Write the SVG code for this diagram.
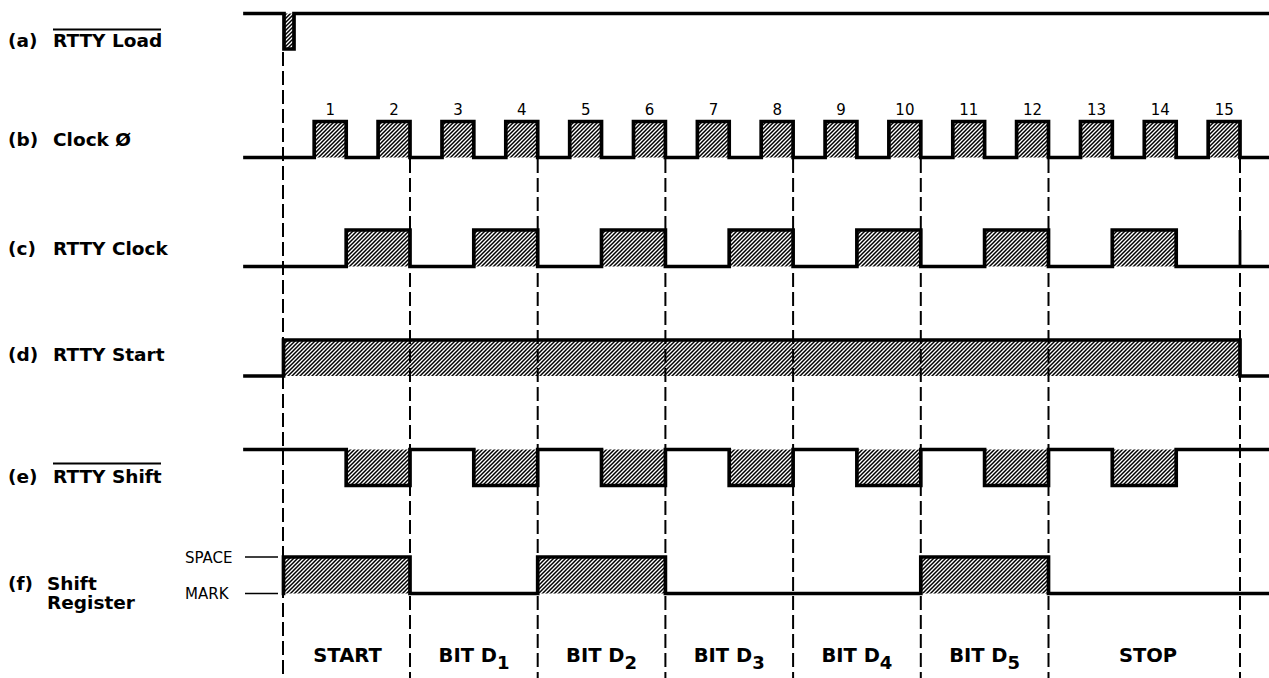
<svg xmlns="http://www.w3.org/2000/svg" width="1269" height="678" viewBox="0 0 1269 678">
<defs>
<pattern id="hatch" patternUnits="userSpaceOnUse" width="4" height="4">
<path d="M-1,1 l2,-2 M0,4 l4,-4 M3,5 l2,-2" stroke="#000" stroke-width="1.5"/>
</pattern>
</defs>
<style>
.wave{fill:none;stroke:#000;stroke-width:3.7;stroke-linejoin:miter;stroke-linecap:square}
.h{fill:url(#hatch);stroke:none}
.dash{fill:none;stroke:#000;stroke-width:2;stroke-dasharray:14 5}
.tick{stroke:#000;stroke-width:1.6}
.lbl{font-family:"DejaVu Sans",Verdana,sans-serif;font-weight:bold;font-size:18.5px;fill:#000}
.num{font-family:"DejaVu Sans",Verdana,sans-serif;font-size:15px;fill:#000;text-anchor:middle}
.lvl{font-family:"DejaVu Sans",Verdana,sans-serif;font-size:15px;fill:#000}
.bit{font-family:"DejaVu Sans",Verdana,sans-serif;font-weight:bold;font-size:19.5px;fill:#000;text-anchor:middle}
.ov{stroke:#000;stroke-width:1.8}
</style>
<rect width="1269" height="678" fill="#fff"/>

<g id="connectors">
<line class="dash" x1="283" y1="52" x2="283" y2="678"/>
<line class="dash" x1="410" y1="159" x2="410" y2="678"/>
<line class="dash" x1="537.7" y1="159" x2="537.7" y2="678"/>
<line class="dash" x1="665.4" y1="159" x2="665.4" y2="678"/>
<line class="dash" x1="793.1" y1="159" x2="793.1" y2="678"/>
<line class="dash" x1="920.8" y1="159" x2="920.8" y2="678"/>
<line class="dash" x1="1048.5" y1="159" x2="1048.5" y2="678"/>
<line class="dash" x1="1240" y1="159" x2="1240" y2="678"/>
</g>

<g id="sig-a">
<text class="lbl" x="8" y="47">(a)</text>
<text class="lbl" x="53" y="47">RTTY Load</text>
<line class="ov" x1="53" y1="29.5" x2="161" y2="29.5"/>
<rect class="h" x="284" y="13.5" width="10" height="35.5"/>
<path class="wave" d="M245,13.5 H284 V49 H294 V13.5 H1269"/>
</g>

<g id="sig-b">
<text class="lbl" x="8" y="146">(b)</text>
<text class="lbl" x="53" y="146">Clock Ø</text>
<g class="h">
<rect x="314.2" y="121.5" width="32" height="36"/>
<rect x="378.1" y="121.5" width="32" height="36"/>
<rect x="442" y="121.5" width="32" height="36"/>
<rect x="505.8" y="121.5" width="32" height="36"/>
<rect x="569.7" y="121.5" width="32" height="36"/>
<rect x="633.5" y="121.5" width="32" height="36"/>
<rect x="697.4" y="121.5" width="32" height="36"/>
<rect x="761.2" y="121.5" width="32" height="36"/>
<rect x="825.1" y="121.5" width="32" height="36"/>
<rect x="888.9" y="121.5" width="32" height="36"/>
<rect x="952.8" y="121.5" width="32" height="36"/>
<rect x="1016.6" y="121.5" width="32" height="36"/>
<rect x="1080.5" y="121.5" width="32" height="36"/>
<rect x="1144.3" y="121.5" width="32" height="36"/>
<rect x="1208.2" y="121.5" width="32" height="36"/>
</g>
<path class="wave" d="M245,157.5 H314.2 V121.5 H346.2 V157.5 H378.1 V121.5 H410 V157.5 H442 V121.5 H473.8 V157.5 H505.8 V121.5 H537.7 V157.5 H569.7 V121.5 H601.5 V157.5 H633.5 V121.5 H665.4 V157.5 H697.4 V121.5 H729.2 V157.5 H761.2 V121.5 H793.1 V157.5 H825.1 V121.5 H856.9 V157.5 H888.9 V121.5 H920.8 V157.5 H952.8 V121.5 H984.6 V157.5 H1016.6 V121.5 H1048.5 V157.5 H1080.5 V121.5 H1112.3 V157.5 H1144.3 V121.5 H1176.2 V157.5 H1208.2 V121.5 H1240 V157.5 H1269"/>
<text class="num" x="330.2" y="115">1</text>
<text class="num" x="394.1" y="115">2</text>
<text class="num" x="458" y="115">3</text>
<text class="num" x="521.8" y="115">4</text>
<text class="num" x="585.7" y="115">5</text>
<text class="num" x="649.5" y="115">6</text>
<text class="num" x="713.4" y="115">7</text>
<text class="num" x="777.2" y="115">8</text>
<text class="num" x="841.1" y="115">9</text>
<text class="num" x="904.9" y="115">10</text>
<text class="num" x="968.8" y="115">11</text>
<text class="num" x="1032.6" y="115">12</text>
<text class="num" x="1096.5" y="115">13</text>
<text class="num" x="1160.3" y="115">14</text>
<text class="num" x="1224.2" y="115">15</text>
</g>

<g id="sig-c">
<text class="lbl" x="8" y="255">(c)</text>
<text class="lbl" x="53" y="255">RTTY Clock</text>
<g class="h">
<rect x="346.2" y="230" width="63.8" height="36.5"/>
<rect x="473.8" y="230" width="63.9" height="36.5"/>
<rect x="601.5" y="230" width="63.9" height="36.5"/>
<rect x="729.2" y="230" width="63.9" height="36.5"/>
<rect x="856.9" y="230" width="63.9" height="36.5"/>
<rect x="984.6" y="230" width="63.9" height="36.5"/>
<rect x="1112.3" y="230" width="63.9" height="36.5"/>
</g>
<path class="wave" d="M245,266.5 H346.2 V230 H410 V266.5 H473.8 V230 H537.7 V266.5 H601.5 V230 H665.4 V266.5 H729.2 V230 H793.1 V266.5 H856.9 V230 H920.8 V266.5 H984.6 V230 H1048.5 V266.5 H1112.3 V230 H1176.2 V266.5 H1269"/>
<line x1="1240" y1="230" x2="1240" y2="266.5" stroke="#000" stroke-width="2.8"/>
</g>

<g id="sig-d">
<text class="lbl" x="8" y="361">(d)</text>
<text class="lbl" x="53" y="361">RTTY Start</text>
<rect class="h" x="283.5" y="340" width="956.5" height="36"/>
<path class="wave" d="M245,376 H283.5 V340 H1240 V376 H1269"/>
</g>

<g id="sig-e">
<text class="lbl" x="8" y="483">(e)</text>
<text class="lbl" x="53" y="483">RTTY Shift</text>
<line class="ov" x1="53" y1="463.5" x2="161" y2="463.5"/>
<g class="h">
<rect x="346.2" y="449.5" width="63.8" height="36"/>
<rect x="473.8" y="449.5" width="63.9" height="36"/>
<rect x="601.5" y="449.5" width="63.9" height="36"/>
<rect x="729.2" y="449.5" width="63.9" height="36"/>
<rect x="856.9" y="449.5" width="63.9" height="36"/>
<rect x="984.6" y="449.5" width="63.9" height="36"/>
<rect x="1112.3" y="449.5" width="63.9" height="36"/>
</g>
<path class="wave" d="M245,449.5 H346.2 V485.5 H410 V449.5 H473.8 V485.5 H537.7 V449.5 H601.5 V485.5 H665.4 V449.5 H729.2 V485.5 H793.1 V449.5 H856.9 V485.5 H920.8 V449.5 H984.6 V485.5 H1048.5 V449.5 H1112.3 V485.5 H1176.2 V449.5 H1269"/>
</g>

<g id="sig-f">
<text class="lbl" x="8" y="590">(f)</text>
<text class="lbl" x="47" y="590">Shift</text>
<text class="lbl" x="47" y="609">Register</text>
<text class="lvl" x="185" y="563">SPACE</text>
<text class="lvl" x="185" y="599">MARK</text>
<line class="tick" x1="245" y1="557" x2="278" y2="557"/>
<line class="tick" x1="245" y1="593.5" x2="278" y2="593.5"/>
<g class="h">
<rect x="283.5" y="557" width="126.5" height="36.5"/>
<rect x="537.7" y="557" width="127.7" height="36.5"/>
<rect x="920.8" y="557" width="127.7" height="36.5"/>
</g>
<path class="wave" d="M283.5,593.5 V557 H410 V593.5 H537.7 V557 H665.4 V593.5 H920.8 V557 H1048.5 V593.5 H1269"/>
</g>

<g id="bit-labels">
<text class="bit" x="347.5" y="662">START</text>
<text class="bit" x="474" y="662">BIT D<tspan font-size="18" dy="7">1</tspan></text>
<text class="bit" x="601.5" y="662">BIT D<tspan font-size="18" dy="7">2</tspan></text>
<text class="bit" x="729.2" y="662">BIT D<tspan font-size="18" dy="7">3</tspan></text>
<text class="bit" x="856.9" y="662">BIT D<tspan font-size="18" dy="7">4</tspan></text>
<text class="bit" x="984.6" y="662">BIT D<tspan font-size="18" dy="7">5</tspan></text>
<text class="bit" x="1148" y="662">STOP</text>
</g>
</svg>
